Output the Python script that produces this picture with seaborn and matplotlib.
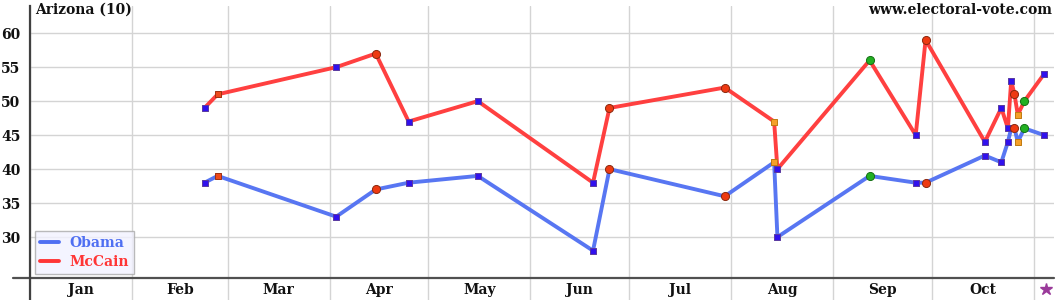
import matplotlib
matplotlib.use("Agg")
import matplotlib.pyplot as plt
import matplotlib.transforms as mtransforms
from matplotlib.lines import Line2D
import pandas as pd
import seaborn as sns

# ---- data ----
poll_dates = ["2008-02-23", "2008-02-27", "2008-04-03", "2008-04-15", "2008-04-25",
              "2008-05-16", "2008-06-20", "2008-06-25", "2008-07-30", "2008-08-14",
              "2008-08-15", "2008-09-12", "2008-09-26", "2008-09-29", "2008-10-17",
              "2008-10-22", "2008-10-24", "2008-10-25", "2008-10-26", "2008-10-27",
              "2008-10-29", "2008-11-04"]
obama = [38, 39, 33, 37, 38, 39, 28, 40, 36, 41, 30, 39, 38, 38, 42, 41, 44, 46, 46, 44, 46, 45]
mccain = [49, 51, 55, 57, 47, 50, 38, 49, 52, 47, 40, 56, 45, 59, 44, 49, 46, 53, 51, 48, 50, 54]
pollster = ["sq", "rs", "sq", "rc", "sq", "sq", "sq", "rc", "rc", "os", "sq", "gc", "sq",
            "rc", "sq", "sq", "sq", "sq", "rc", "os", "gc", "sq"]
month_labels = ["Jan", "Feb", "Mar", "Apr", "May", "Jun", "Jul", "Aug", "Sep", "Oct"]
y_ticks = [30, 35, 40, 45, 50, 55, 60]
state_title = "Arizona (10)"
site_title = "www.electoral-vote.com"
election_day = "2008-11-04 12:00"

# ---- styles ----
line_colors = {"Obama": "#4f6ff2", "McCain": "#ff3535"}
marker_styles = {
    "sq": dict(marker="s", color="#3010ee", edgecolor="#5a3aa0", s=24),
    "rs": dict(marker="s", color="#ee4a1c", edgecolor="#a03010", s=24),
    "rc": dict(marker="o", color="#ee3a12", edgecolor="#8a2a10", s=34),
    "os": dict(marker="s", color="#f5a028", edgecolor="#c07a10", s=24),
    "gc": dict(marker="o", color="#22b022", edgecolor="#157015", s=34),
}

sns.set_theme(style="white")
plt.rcParams["font.family"] = ["DejaVu Serif", "DejaVu Sans"]
plt.rcParams["font.weight"] = "bold"

df = pd.DataFrame({"date": pd.to_datetime(poll_dates), "Obama": obama,
                   "McCain": mccain, "pollster": pollster})
long = df.melt(id_vars=["date", "pollster"], value_vars=["Obama", "McCain"],
               var_name="candidate", value_name="value")

fig = plt.figure(figsize=(10.6, 3.0), dpi=100)
ax = fig.add_axes([30 / 1060, 0, 1024 / 1060, 294 / 300])

x0 = pd.Timestamp("2008-01-01")
x1 = pd.Timestamp("2008-11-07")
ax.set_xlim(x0, x1)
ax.set_ylim(20.74, 64.0)

# grid
month_starts = pd.date_range("2008-01-01", "2008-11-01", freq="MS")
ax.set_xticks(month_starts)
ax.set_yticks(y_ticks)
ax.grid(True, color="#d4d4d4", lw=1.0)
ax.set_axisbelow(True)
ax.tick_params(axis="x", length=0, labelbottom=False)
ax.tick_params(axis="y", length=0, pad=7, labelsize=10, labelcolor="#111111")
for lab in ax.get_yticklabels():
    lab.set_fontweight("bold")

for side in ["top", "right", "bottom"]:
    ax.spines[side].set_visible(False)
ax.spines["left"].set_color("#404040")
ax.spines["left"].set_linewidth(1.6)

# x axis line
ax.axhline(24, xmin=-17 / 1024, xmax=1, color="#505050", lw=1.6, clip_on=False, zorder=2)

# lines
sns.lineplot(data=long, x="date", y="value", hue="candidate", palette=line_colors,
             lw=2.8, legend=False, ax=ax, sort=True, zorder=2, alpha=0.95)

# markers
for key, st in marker_styles.items():
    sub = long[long["pollster"] == key]
    if len(sub):
        sns.scatterplot(data=sub, x="date", y="value", marker=st["marker"], color=st["color"],
                        edgecolor=st["edgecolor"], linewidth=0.7, s=st["s"], ax=ax,
                        legend=False, zorder=3)
ax.set_xlabel("")
ax.set_ylabel("")

# month labels
trans = mtransforms.blended_transform_factory(ax.transData, ax.transAxes)
for i, name in enumerate(month_labels):
    start = month_starts[i]
    end = month_starts[i + 1]
    mid = start + (end - start) / 2
    ax.text(mid, 0.034, name, transform=trans, ha="center", va="center",
            fontsize=10, fontweight="bold", color="#111111")

# election day star
ax.plot([pd.Timestamp(election_day)], [0.037], transform=trans, marker="*",
        color="#9a3a9a", markersize=9, clip_on=False, ls="none")

# titles
fig.text(35 / 1060, 1 - 10 / 300, state_title, ha="left", va="center",
         fontsize=10, fontweight="bold", color="#111111")
fig.text(1052 / 1060, 1 - 10 / 300, site_title, ha="right", va="center",
         fontsize=10, fontweight="bold", color="#111111")

# legend
handles = [Line2D([0], [0], color=line_colors["Obama"], lw=2.8),
           Line2D([0], [0], color=line_colors["McCain"], lw=2.8)]
leg = ax.legend(handles, ["Obama", "McCain"], loc="lower left",
                bbox_to_anchor=(0.005, 0.09), borderaxespad=0, frameon=True,
                fancybox=False, facecolor="#f2f2ff", edgecolor="#aaaaaa",
                handlelength=1.4, handletextpad=0.7, labelspacing=0.35,
                borderpad=0.35, prop={"size": 10, "weight": "bold"})
leg.get_frame().set_linewidth(1.0)
for txt, c in zip(leg.get_texts(), [line_colors["Obama"], line_colors["McCain"]]):
    txt.set_color(c)

fig.savefig("out.png", dpi=100)
